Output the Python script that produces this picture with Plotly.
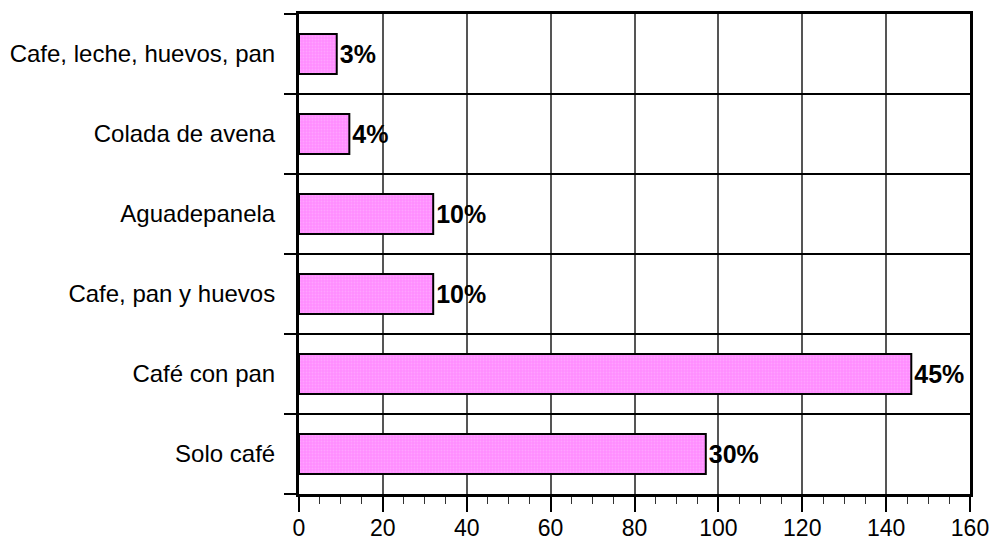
import plotly.graph_objects as go

categories = ["Solo café", "Café con pan", "Cafe, pan y huevos", "Aguadepanela",
              "Colada de avena", "Cafe, leche, huevos, pan"]
counts = [97, 146, 32, 32, 12, 9]
pct_labels = ["30%", "45%", "10%", "10%", "4%", "3%"]
x_ticks = [0, 20, 40, 60, 80, 100, 120, 140, 160]

font_family = "Liberation Sans, Arial, sans-serif"

fig = go.Figure()
fig.add_trace(go.Bar(
    x=counts, y=categories, orientation="h", width=0.5,
    marker=dict(color="#FF8CFF", line=dict(color="black", width=2),
                pattern=dict(shape=".", fgcolor="#FFB8FF", size=3, solidity=0.3)),
    text=pct_labels, textposition="outside",
    textfont=dict(family=font_family, size=25, color="black", weight="bold"),
    cliponaxis=False,
))

fig.update_layout(
    width=991, height=540,
    margin=dict(l=299, r=21, t=14, b=46, autoexpand=False),
    paper_bgcolor="white", plot_bgcolor="white",
    showlegend=False,
    font=dict(family=font_family, size=23, color="black"),
    xaxis=dict(range=[0, 160], tickvals=x_ticks, showgrid=True, gridcolor="#555555",
               gridwidth=1.5, ticks="outside", ticklen=15, tickwidth=1.5, tickcolor="black",
               showline=True, linecolor="black", linewidth=3, mirror=True, zeroline=False,
               minor=dict(dtick=5, ticks="outside", ticklen=7, tickwidth=1, tickcolor="#333333",
                          showgrid=False),
               ticklabelstandoff=-4, ticklabeloverflow="allow",
               tickfont=dict(size=23), automargin=False),
    yaxis=dict(type="category", categoryorder="array", categoryarray=categories,
               tickson="boundaries", showgrid=True, gridcolor="black", gridwidth=1.5,
               ticks="outside", ticklen=12, tickwidth=1.5, tickcolor="black",
               showline=True, linecolor="black", linewidth=3, mirror=True,
               ticklabelstandoff=16,
               tickfont=dict(size=24), automargin=False),
)

fig.write_html("out.html", config={"displayModeBar": False},
               post_script="document.body.style.margin='0';document.body.style.overflow='hidden';")
